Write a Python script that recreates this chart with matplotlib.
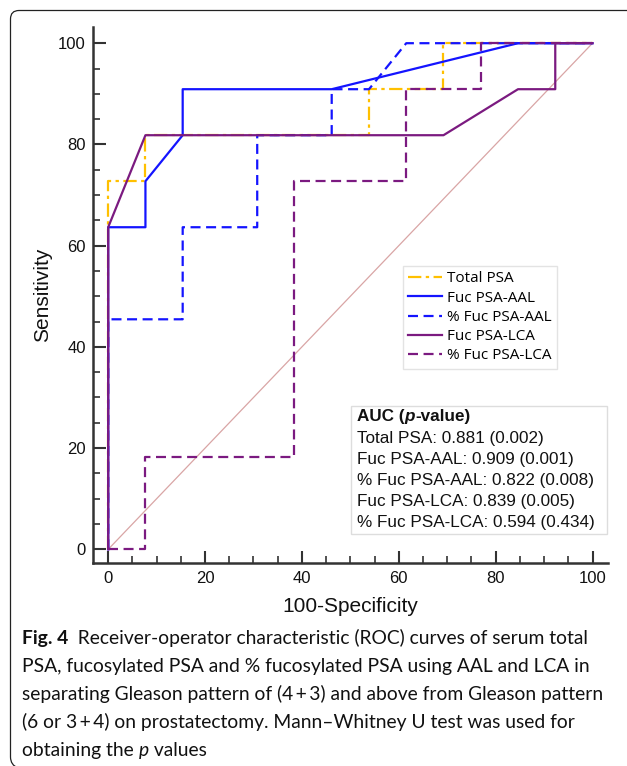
import matplotlib
matplotlib.use("Agg")
import matplotlib.pyplot as plt
from matplotlib.patches import Rectangle, PathPatch
from matplotlib.path import Path
from matplotlib.ticker import MultipleLocator

# ROC curves (100-specificity vs sensitivity, %)
total_psa_x = [0, 0, 7.69, 7.69, 53.85, 53.85, 69.23, 69.23, 100]
total_psa_y = [0, 72.73, 72.73, 81.82, 81.82, 90.91, 90.91, 100, 100]

fuc_aal_x = [0, 0, 7.69, 7.69, 15.38, 15.38, 46.15, 84.62, 100]
fuc_aal_y = [0, 63.64, 63.64, 72.73, 81.82, 90.91, 90.91, 100, 100]

pct_aal_x = [0, 0, 15.38, 15.38, 30.77, 30.77, 46.15, 46.15, 53.85, 61.54, 100]
pct_aal_y = [0, 45.45, 45.45, 63.64, 63.64, 81.82, 81.82, 90.91, 90.91, 100, 100]

fuc_lca_x = [0, 0, 7.69, 69.23, 84.62, 92.31, 92.31, 100]
fuc_lca_y = [0, 63.64, 81.82, 81.82, 90.91, 90.91, 100, 100]

pct_lca_x = [0, 7.69, 7.69, 38.46, 38.46, 61.54, 61.54, 76.92, 76.92, 100]
pct_lca_y = [0, 0, 18.18, 18.18, 72.73, 72.73, 90.91, 90.91, 100, 100]

series_names = ["Total PSA", "Fuc PSA-AAL", "% Fuc PSA-AAL", "Fuc PSA-LCA", "% Fuc PSA-LCA"]
auc_values = ["0.881", "0.909", "0.822", "0.839", "0.594"]
p_values = ["0.002", "0.001", "0.008", "0.005", "0.434"]

caption_lines = [
    "PSA, fucosylated PSA and % fucosylated PSA using AAL and LCA in",
    "separating Gleason pattern of (4\u2009+\u20093) and above from Gleason pattern",
    "(6 or 3\u2009+\u20094) on prostatectomy. Mann\u2013Whitney U test was used for",
]

W, H = 627, 766
fig = plt.figure(figsize=(W / 100, H / 100), dpi=100)
fig.patch.set_facecolor("white")

def fx(px):
    return px / W

def fy(py):
    return 1 - py / H

ax = fig.add_axes([fx(92.7), fy(563), (608 - 92.7) / W, (563 - 27) / H])

orange = "#FFC000"
blue = "#1414FF"
purple = "#7B1A80"

ax.plot([0, 100], [0, 100], color="#D9A5A5", lw=0.9, zorder=1)
ax.plot(total_psa_x, total_psa_y, color=orange, lw=1.6, dashes=(6, 2, 1.5, 2), label=series_names[0])
ax.plot(fuc_aal_x, fuc_aal_y, color=blue, lw=1.6, label=series_names[1])
ax.plot(pct_aal_x, pct_aal_y, color=blue, lw=1.6, dashes=(4.5, 2.5), label=series_names[2])
ax.plot(fuc_lca_x, fuc_lca_y, color=purple, lw=1.6, label=series_names[3])
ax.plot(pct_lca_x, pct_lca_y, color=purple, lw=1.6, dashes=(4.5, 2.5), label=series_names[4])

ax.set_xlim(-3.2, 103.2)
ax.set_ylim(-2.7, 103.2)
ax.xaxis.set_major_locator(MultipleLocator(20))
ax.xaxis.set_minor_locator(MultipleLocator(5))
ax.yaxis.set_major_locator(MultipleLocator(20))
ax.yaxis.set_minor_locator(MultipleLocator(5))
ax.spines["top"].set_visible(False)
ax.spines["right"].set_visible(False)
for s in ["left", "bottom"]:
    ax.spines[s].set_linewidth(1.8)
    ax.spines[s].set_color("#333333")
ax.tick_params(which="major", direction="in", length=9, width=1.5, color="#333333",
               labelsize=12, labelcolor="#111111")
ax.tick_params(axis="x", which="major", pad=6)
ax.tick_params(axis="y", which="major", pad=5)
ax.tick_params(which="minor", direction="in", length=5, width=1.2, color="#333333")
for lab in ax.get_xticklabels() + ax.get_yticklabels():
    lab.set_fontfamily("Liberation Sans")

leg = ax.legend(loc="upper left", bbox_to_anchor=((403 - 92.7) / 515.3, (563 - 266) / 536),
                prop={"family": "Open Sans", "size": 11}, frameon=True, fancybox=False,
                edgecolor="#DDDDDD", handlelength=2.2, handletextpad=0.3, labelspacing=0.28,
                borderpad=0.35, borderaxespad=0)
leg.get_frame().set_linewidth(1.0)

fig.text(fx(43), fy(295), "Sensitivity", rotation=90, ha="center", va="center",
         fontsize=15, family="Liberation Sans", color="#111111")
fig.text(fx(350), fy(607), "100-Specificity", ha="center", va="center",
         fontsize=15, family="Liberation Sans", color="#111111")

# AUC box
fig.patches.append(Rectangle((fx(350.7), fy(534)), (606.7 - 350.7) / W, (534 - 406) / H,
                             transform=fig.transFigure, facecolor="white",
                             edgecolor="#DDDDDD", lw=1.0, zorder=5))

renderer = fig.canvas.get_renderer()

def rich_line(x, y, pieces, size, family, va="center"):
    for s, kw in pieces:
        t = fig.text(fx(x), fy(y), s, fontsize=size, family=family, va=va,
                     color="#111111", zorder=6, **kw)
        x += t.get_window_extent(renderer).width

auc_x = 357.3
auc_size = 12.3
auc_rows = [416.7, 438.5, 459.7, 480.7, 501.7, 523]
rich_line(auc_x, auc_rows[0], [("AUC (", {"weight": "bold"}),
                               ("p", {"weight": "bold", "style": "italic"}),
                               ("-value)", {"weight": "bold"})], auc_size, "Liberation Sans")
for i, name in enumerate(series_names):
    fig.text(fx(auc_x), fy(auc_rows[i + 1]), f"{name}: {auc_values[i]} ({p_values[i]})",
             fontsize=auc_size, family="Liberation Sans", va="center", color="#111111", zorder=6)

# caption
cap_x = 22
cap_size = 13.9
rich_line(cap_x, 644, [("Fig. 4", {"weight": "bold"}),
                       ("  Receiver-operator characteristic (ROC) curves of serum total", {})],
          cap_size, "Lato", va="baseline")
for i, line in enumerate(caption_lines):
    fig.text(fx(cap_x), fy(672 + 28 * i), line, fontsize=cap_size, family="Lato",
             va="baseline", color="#111111")
rich_line(cap_x, 756, [("obtaining the ", {}), ("p", {"style": "italic"}), (" values", {})],
          cap_size, "Lato", va="baseline")

# bracket border (top and left with rounded corners)
verts = [(fx(627), fy(10.5)), (fx(19), fy(10.5)), (fx(10.5), fy(10.5)), (fx(10.5), fy(19)),
         (fx(10.5), fy(757)), (fx(10.5), fy(765)), (fx(18), fy(768))]
codes = [Path.MOVETO, Path.LINETO, Path.CURVE3, Path.CURVE3, Path.LINETO, Path.CURVE3, Path.CURVE3]
fig.patches.append(PathPatch(Path(verts, codes), transform=fig.transFigure, fill=False,
                             edgecolor="#222222", lw=0.9))

fig.savefig("out.png", dpi=100)
